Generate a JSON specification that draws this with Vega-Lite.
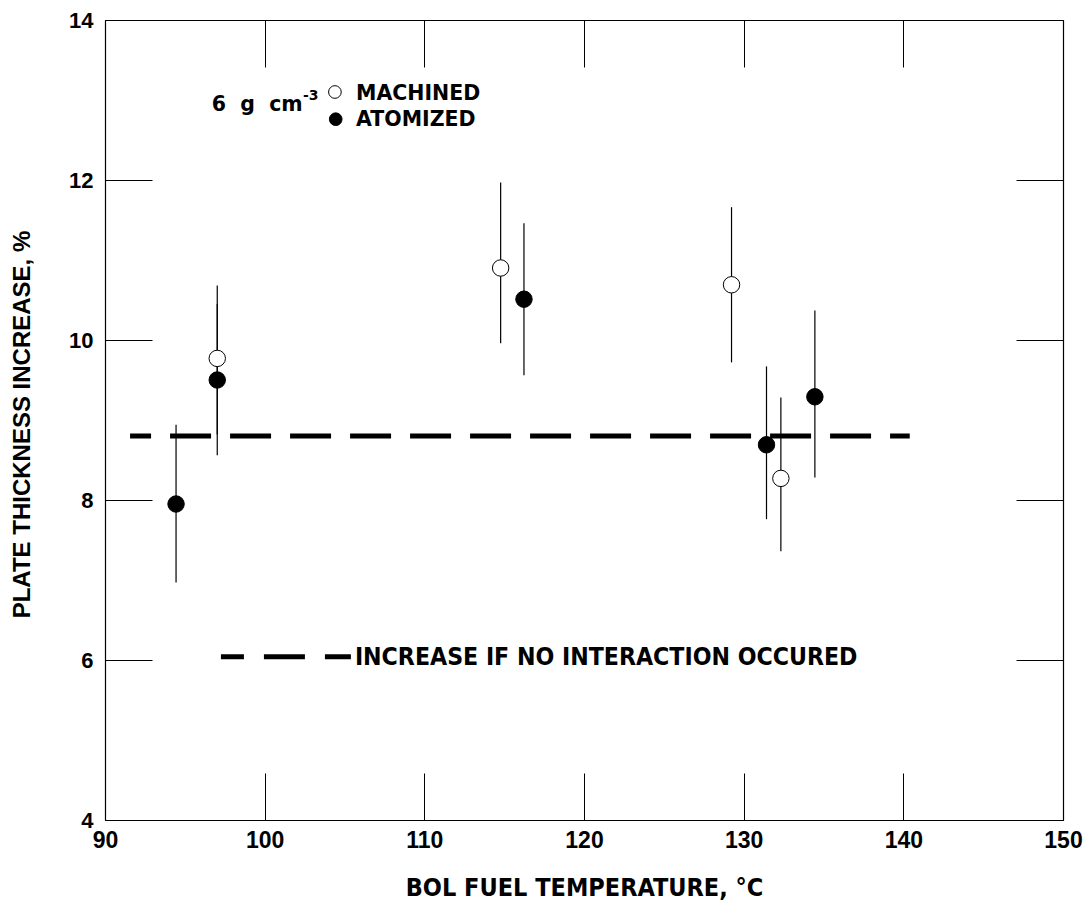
{
  "$schema": "https://vega.github.io/schema/vega-lite/v6.json",
  "width": 958,
  "height": 800,
  "autosize": "none",
  "padding": {"left": 105, "top": 20, "right": 25, "bottom": 83},
  "background": "white",
  "config": {
    "view": {"stroke": null},
    "axis": {
      "domainColor": "black",
      "domainWidth": 1.2,
      "tickColor": "black",
      "tickWidth": 1,
      "grid": false,
      "labelColor": "black",
      "titleColor": "black",
      "labelFlush": false,
      "labelOverlap": false
    }
  },
  "datasets": {
    "pts": [
      {"temp": 94.45, "inc": 7.95, "lo": 6.97, "hi": 8.94, "type": "ATOMIZED"},
      {"temp": 97.03, "inc": 9.77, "lo": 8.82, "hi": 10.68, "type": "MACHINED"},
      {"temp": 97.03, "inc": 9.5, "lo": 8.56, "hi": 10.45, "type": "ATOMIZED"},
      {"temp": 114.78, "inc": 10.9, "lo": 9.96, "hi": 11.97, "type": "MACHINED"},
      {"temp": 116.24, "inc": 10.51, "lo": 9.56, "hi": 11.46, "type": "ATOMIZED"},
      {"temp": 129.24, "inc": 10.69, "lo": 9.72, "hi": 11.66, "type": "MACHINED"},
      {"temp": 131.43, "inc": 8.69, "lo": 7.76, "hi": 9.67, "type": "ATOMIZED"},
      {"temp": 132.33, "inc": 8.27, "lo": 7.36, "hi": 9.28, "type": "MACHINED"},
      {"temp": 134.46, "inc": 9.29, "lo": 8.28, "hi": 10.37, "type": "ATOMIZED"}
    ],
    "noInteraction": [{"x1": 91.57, "x2": 140.4, "y": 8.8}],
    "legendLine": [{"x1": 97.26, "x2": 105.4, "y": 6.04}],
    "legendPts": [
      {"x": 104.4, "y": 13.1, "type": "MACHINED"},
      {"x": 104.45, "y": 12.76, "type": "ATOMIZED"}
    ],
    "notes": [
      {"id": "legend", "x": 105.72, "y": 13.0, "label": "MACHINED"},
      {"id": "legend", "x": 105.72, "y": 12.67, "label": "ATOMIZED"},
      {"id": "legend", "x": 96.68, "y": 12.86, "label": "6\u00a0\u00a0g\u00a0\u00a0cm"},
      {"id": "sup", "x": 102.4, "y": 13.0, "label": "-3"},
      {"id": "line", "x": 105.65, "y": 6.03, "label": "INCREASE IF NO INTERACTION OCCURED"}
    ]
  },
  "layer": [
    {
      "data": {"name": "noInteraction"},
      "mark": {"type": "rule", "strokeWidth": 5, "color": "black", "strokeDash": [41, 19], "strokeDashOffset": 20, "strokeCap": "butt"},
      "encoding": {
        "x": {"field": "x1", "type": "quantitative", "scale": {"domain": [90, 150], "nice": false, "zero": false},
          "axis": {"orient": "top", "values": [90, 100, 110, 120, 130, 140, 150], "tickSize": -47, "labels": false, "title": null}},
        "x2": {"field": "x2"},
        "y": {"field": "y", "type": "quantitative", "scale": {"domain": [4, 14], "nice": false, "zero": false},
          "axis": {"orient": "right", "values": [4, 6, 8, 10, 12, 14], "tickSize": -47, "labels": false, "title": null}}
      }
    },
    {
      "data": {"name": "pts"},
      "mark": {"type": "rule", "strokeWidth": 1.2, "color": "black"},
      "encoding": {
        "x": {"field": "temp", "type": "quantitative",
          "axis": {"orient": "bottom", "values": [90, 100, 110, 120, 130, 140, 150], "tickSize": -47,
            "labelFont": "Liberation Sans", "labelFontWeight": "bold", "labelFontSize": 23, "labelPadding": 56,
            "title": "BOL FUEL TEMPERATURE, °C", "titleFont": "DejaVu Sans Condensed, Liberation Sans", "titleFontWeight": "bold", "titleFontSize": 25,
            "titleY": 75, "titleBaseline": "alphabetic"}},
        "y": {"field": "lo", "type": "quantitative",
          "axis": {"orient": "left", "values": [4, 6, 8, 10, 12, 14], "tickSize": -47,
            "labelFont": "Liberation Sans", "labelFontWeight": "bold", "labelFontSize": 22, "labelPadding": 59,
            "title": "PLATE THICKNESS INCREASE, %", "titleFont": "Liberation Sans", "titleFontWeight": "bold", "titleFontSize": 24,
            "titleX": -83, "titleY": 404, "titleAngle": -90, "titleBaseline": "middle", "titleAlign": "center"}},
        "y2": {"field": "hi"}
      }
    },
    {
      "data": {"name": "pts"},
      "mark": {"type": "point", "shape": "circle", "filled": true, "size": 270, "stroke": "black", "strokeWidth": 1, "opacity": 1},
      "encoding": {
        "x": {"field": "temp", "type": "quantitative", "axis": null},
        "y": {"field": "inc", "type": "quantitative", "axis": null},
        "fill": {"field": "type", "type": "nominal", "scale": {"domain": ["MACHINED", "ATOMIZED"], "range": ["white", "black"]}, "legend": null}
      }
    },
    {
      "data": {"name": "legendLine"},
      "mark": {"type": "rule", "strokeWidth": 5, "color": "black", "strokeDash": [41, 20], "strokeDashOffset": 18, "strokeCap": "butt"},
      "encoding": {
        "x": {"field": "x1", "type": "quantitative", "axis": null},
        "x2": {"field": "x2"},
        "y": {"field": "y", "type": "quantitative", "axis": null}
      }
    },
    {
      "data": {"name": "legendPts"},
      "mark": {"type": "point", "shape": "circle", "filled": true, "size": 160, "stroke": "black", "strokeWidth": 1, "opacity": 1},
      "encoding": {
        "x": {"field": "x", "type": "quantitative", "axis": null},
        "y": {"field": "y", "type": "quantitative", "axis": null},
        "fill": {"field": "type", "type": "nominal", "legend": null}
      }
    },
    {
      "data": {"name": "notes"},
      "transform": [{"filter": "datum.id === 'legend'"}],
      "mark": {"type": "text", "font": "DejaVu Sans", "fontWeight": "bold", "fontSize": 20.5, "align": "left", "baseline": "alphabetic", "color": "black"},
      "encoding": {
        "x": {"field": "x", "type": "quantitative", "axis": null},
        "y": {"field": "y", "type": "quantitative", "axis": null},
        "text": {"field": "label"}
      }
    },
    {
      "data": {"name": "notes"},
      "transform": [{"filter": "datum.id === 'sup'"}],
      "mark": {"type": "text", "font": "DejaVu Sans", "fontWeight": "bold", "fontSize": 14, "align": "left", "baseline": "alphabetic", "color": "black"},
      "encoding": {
        "x": {"field": "x", "type": "quantitative", "axis": null},
        "y": {"field": "y", "type": "quantitative", "axis": null},
        "text": {"field": "label"}
      }
    },
    {
      "data": {"name": "notes"},
      "transform": [{"filter": "datum.id === 'line'"}],
      "mark": {"type": "text", "font": "DejaVu Sans Condensed, Liberation Sans", "fontWeight": "bold", "fontSize": 24.6, "align": "left", "baseline": "middle", "color": "black"},
      "encoding": {
        "x": {"field": "x", "type": "quantitative", "axis": null},
        "y": {"field": "y", "type": "quantitative", "axis": null},
        "text": {"field": "label"}
      }
    }
  ],
  "resolve": {"axis": {"x": "independent", "y": "independent"}}
}
